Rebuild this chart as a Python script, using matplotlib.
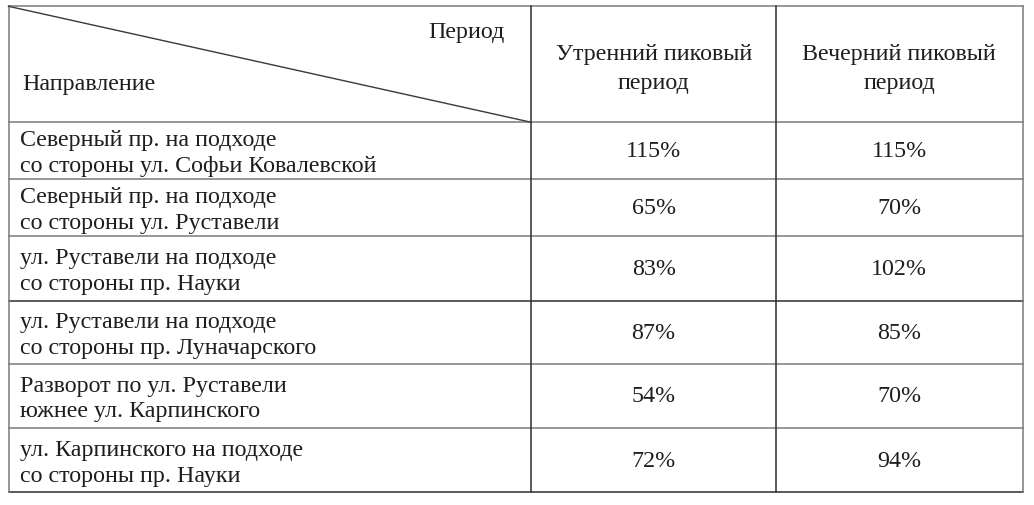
import matplotlib
matplotlib.use("Agg")
import matplotlib.pyplot as plt

# ---- data ----
corner_top = "Период"
corner_bottom = "Направление"
col_headers = ["Утренний пиковый\nпериод", "Вечерний пиковый\nпериод"]
directions = [
    "Северный пр. на подходе\nсо стороны ул. Софьи Ковалевской",
    "Северный пр. на подходе\nсо стороны ул. Руставели",
    "ул. Руставели на подходе\nсо стороны пр. Науки",
    "ул. Руставели на подходе\nсо стороны пр. Луначарского",
    "Разворот по ул. Руставели\nюжнее ул. Карпинского",
    "ул. Карпинского на подходе\nсо стороны пр. Науки",
]
morning = [115, 65, 83, 87, 54, 72]
evening = [115, 70, 102, 85, 70, 94]

# ---- layout (pixel coordinates) ----
W, H = 1034, 506
fig = plt.figure(figsize=(W / 100, H / 100), dpi=100)
ax = fig.add_axes([0, 0, 1, 1])
ax.set_xlim(0, W)
ax.set_ylim(H, 0)
ax.axis("off")

x_left, x_c1, x_c2, x_right = 8.5, 531.3, 776, 1022.5
y_top = 7.3
row_edges = [123.3, 180.3, 237, 301.7, 364.7, 429.3, 493.3]

font = dict(family=["Liberation Serif", "DejaVu Serif"], fontsize=17.3, color="#1e1e1e")
hcol = "#7a7a7a"
vcol = "#2e2e2e"
lw = 1.1

# horizontal lines
ax.plot([x_left, x_right], [y_top, y_top], color=hcol, lw=lw)
for y in row_edges:
    c = vcol if y in (301.7, 493.3) else hcol
    ax.plot([x_left, x_right], [y, y], color=c, lw=lw)
# vertical lines
for x in (x_left, x_c1, x_c2, x_right):
    c = vcol if x in (x_c1, x_c2) else hcol
    ax.plot([x, x], [y_top, row_edges[-1]], color=c, lw=lw)
# diagonal in the corner
ax.plot([x_left, x_c1], [y_top, row_edges[0]], color="#3a3a3a", lw=1.0)

# corner header text
ax.text(505, 32, corner_top, ha="right", va="center", **font)
ax.text(22, 84, corner_bottom, ha="left", va="center", **font)

# column headers
col_centers = [(x_c1 + x_c2) / 2, (x_c2 + x_right) / 2]
for xc, h in zip(col_centers, col_headers):
    ax.text(xc, 69, h, ha="center", va="center", linespacing=1.45, **font)

# body rows
for i, (d, m, e) in enumerate(zip(directions, morning, evening)):
    y0, y1 = row_edges[i], row_edges[i + 1]
    yc = (y0 + y1) / 2
    ax.text(20, yc + 2, d, ha="left", va="center", linespacing=1.3, **font)
    ax.text(col_centers[0], yc, f"{m}%", ha="center", va="center", **font)
    ax.text(col_centers[1], yc, f"{e}%", ha="center", va="center", **font)

fig.savefig("out.png", dpi=100, facecolor="white")
